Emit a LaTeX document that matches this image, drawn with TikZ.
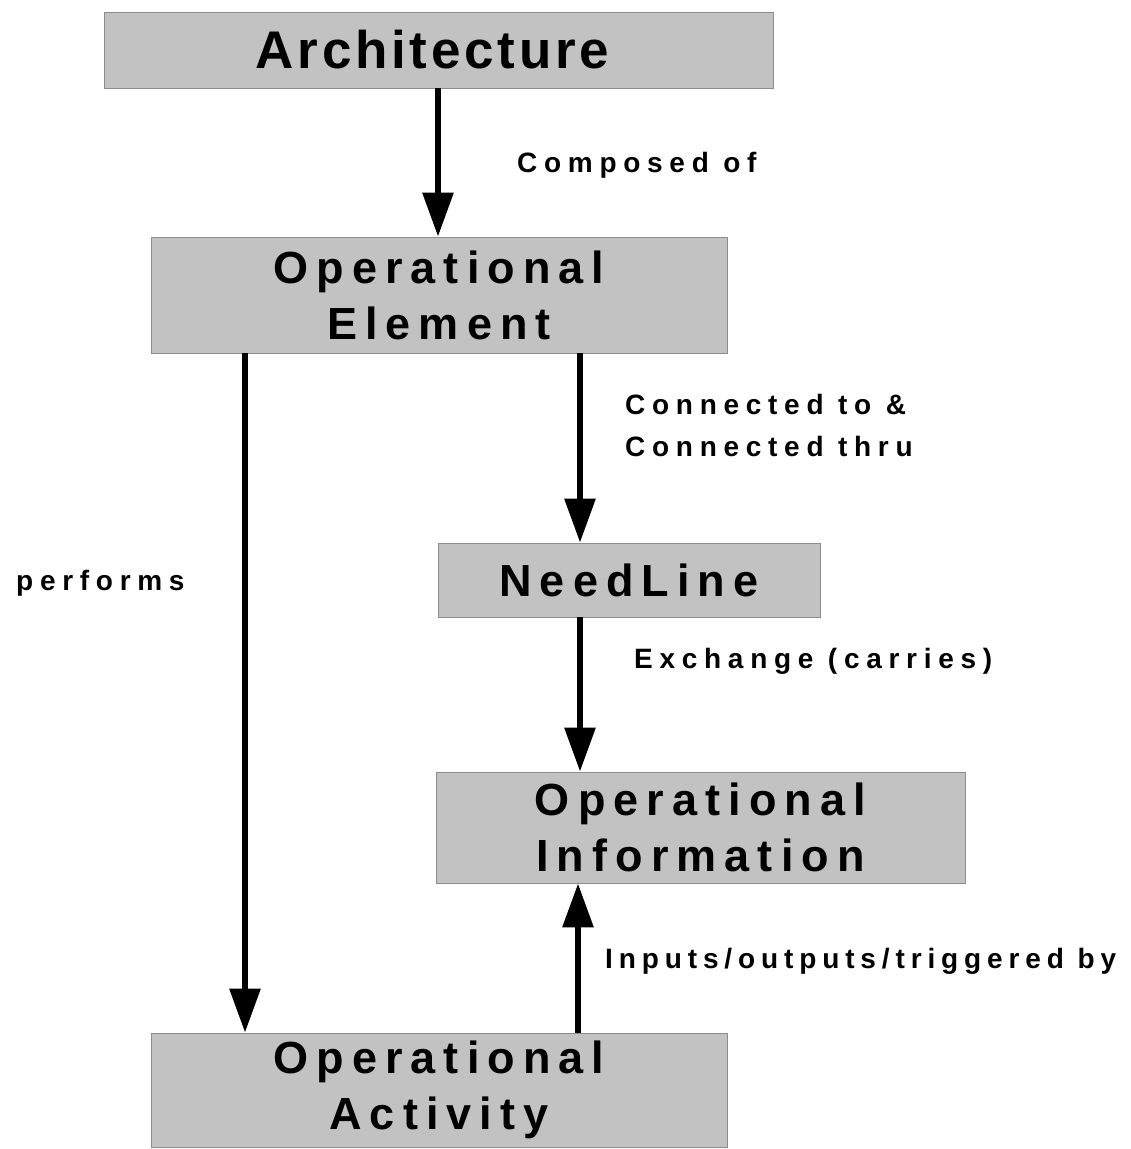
\documentclass[tikz,border=0pt]{standalone}
\usepackage{fontspec}
\setmainfont{Liberation Sans}
\usetikzlibrary{arrows.meta}
\newfontfamily\boxfam[LetterSpace=18]{Liberation Sans Bold}
\newfontfamily\topfam[LetterSpace=7]{Liberation Sans Bold}
\newfontfamily\labfam[LetterSpace=24]{Liberation Sans Bold}
\newfontfamily\labnarrow[LetterSpace=21]{Liberation Sans Bold}
\begin{document}
\begin{tikzpicture}[x=1pt,y=-1pt,
  box/.style={draw=black!45,line width=0.8pt,fill=black!24,inner sep=0pt,
    align=center,font=\boxfam\fontsize{45}{56}\selectfont},
  lbl/.style={anchor=base west,inner sep=0pt,font=\labfam\fontsize{28}{33}\selectfont},
  link/.style={line width=6pt,-{Triangle[width=30pt,length=44pt]},shorten >=0pt}]
\useasboundingbox (0,0) rectangle (1131,1149);
% boxes
\node[box,minimum width=669pt,minimum height=76pt,
  font=\topfam\fontsize{53}{60}\selectfont] (arch) at (438.5,50) {Architecture\kern12pt};
\node[box,minimum width=576pt,minimum height=116pt] (elem) at (439,295) {Operational\\Element};
\node[box,minimum width=382pt,minimum height=74pt] (need) at (629,580) {NeedLine};
\node[box,minimum width=529pt,minimum height=111pt] (info) at (700.5,827.5) {Operational\\Information};
\node[box,minimum width=576pt,minimum height=114pt] (act) at (439,1090) {Operational\\Activity};
% columns of the connectors
\coordinate (cA) at (438,0);
\coordinate (cL) at (245,0);
\coordinate (cR) at (580,0);
\coordinate (cU) at (578,0);
% connectors
\draw[link] (arch.south -| cA) -- (elem.north -| cA);
\draw[link] (elem.south -| cL) -- (act.north -| cL);
\draw[link] (elem.south -| cR) -- (need.north -| cR);
\draw[link] (need.south -| cR) -- (info.north -| cR);
\draw[link] (act.north -| cU) -- (info.south -| cU);
% labels
\node[lbl] (lcomp) at (517,172) {Composed of};
\node[lbl] (lcon1) at (625,414) {Connected to \&};
\node[lbl] (lcon2) at (625,456) {Connected thru};
\node[lbl] (lperf) at (16,590) {performs};
\node[lbl] (lexch) at (634,668) {Exchange (carries)};
\node[lbl,font=\labnarrow\fontsize{28}{33}\selectfont] (linp) at (605,968) {Inputs/outputs/triggered by};
\end{tikzpicture}
\end{document}
